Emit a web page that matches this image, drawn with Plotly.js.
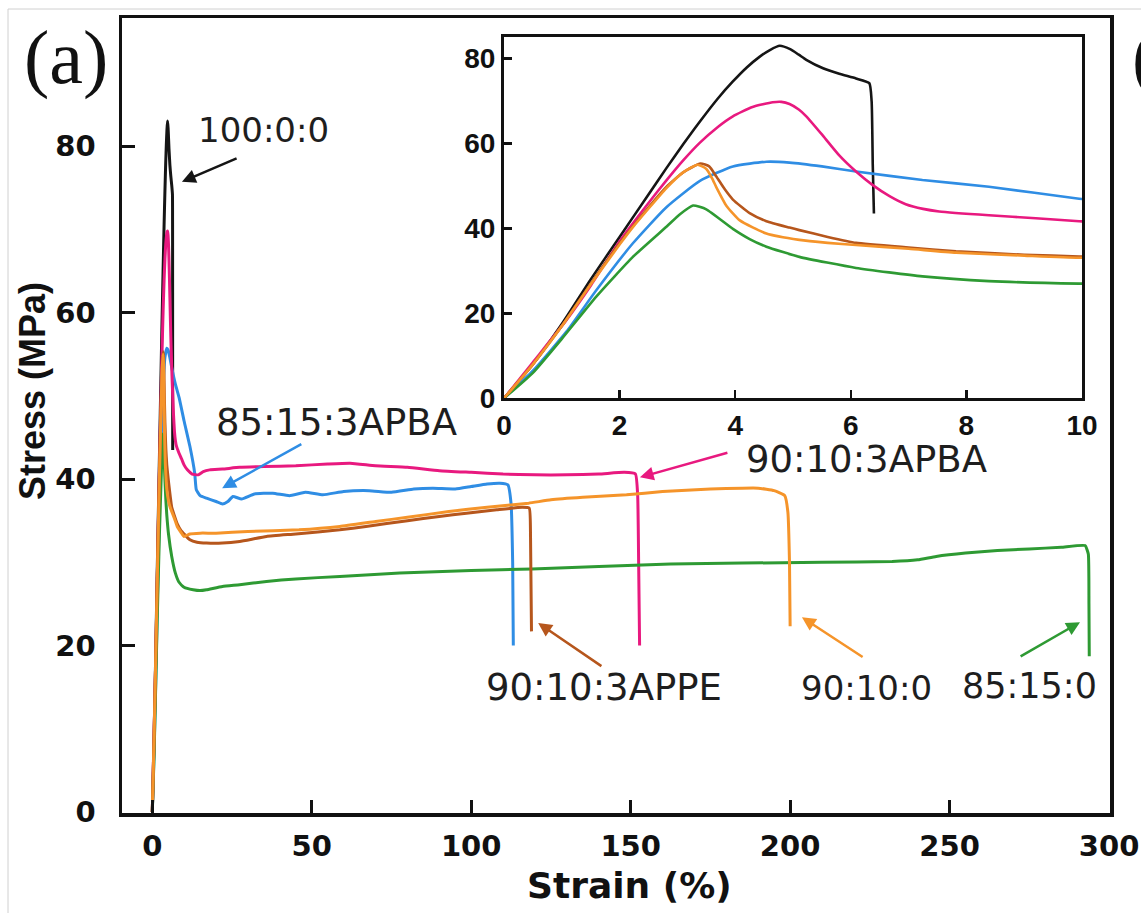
<!DOCTYPE html>
<html>
<head>
<meta charset="utf-8">
<script src="https://cdn.plot.ly/plotly-3.0.1.min.js"></script>
<style>
html,body{margin:0;padding:0;background:#fff;}
#chart{width:1141px;height:913px;}
</style>
</head>
<body>
<div id="chart"></div>
<script>
// ---- Data (strain %, stress MPa) ----
const seriesNames = ["100:0:0", "85:15:3APBA", "90:10:3APBA", "85:15:0", "90:10:3APPE", "90:10:0"];
const seriesColors = ["#151515", "#2f8de4", "#e8197f", "#2e9a33", "#b6561c", "#f5942a"];

const x_100_0_0 = [0,0.5,1,1.5,2,2.5,2.81,3.1,3.38,3.7,3.96,4.2,4.42,4.6,4.77,4.95,5.1,5.23,5.52,5.8,6.09,6.32,6.36,6.38,6.4];
const y_100_0_0 = [0,8,17.5,28,38,48,54.2,59.8,65,70.6,74.6,77.9,80.4,82,83,82.2,80.9,79.7,77.7,76.4,75.3,74.2,70,55,43.5];

const x_90_10_3APBA = [0,0.5,1.08,1.5,2,2.5,2.81,3.1,3.39,3.7,3.96,4.3,4.65,4.8,4.94,5.1,5.23,5.52,5.8,6.09,6.38,6.67,6.95,7.25,7.53,8.39,9.2,9.95,11,12.5,14.4,16,18,22,27.4,35,45,55,62,70,80,90,100,110,120,130,140,148,151.5,152.2,152.5,152.8];
const y_90_10_3APBA = [0,8.5,18.4,26.5,37,46,51.3,56,60.2,63.9,66.4,68.6,69.7,69.8,69.3,68,66.4,61.8,57.2,53.4,50.2,47.6,45.7,44.6,44,43.1,42.4,41.7,41.1,40.6,40.5,40.9,41.1,41.2,41.4,41.5,41.6,41.8,41.9,41.6,41.4,41.0,40.8,40.6,40.5,40.5,40.6,40.8,40.6,38,30,20];

const x_85_15_3APBA = [0,0.5,1.08,1.6,2.23,2.81,3.39,3.96,4.54,4.94,5.5,6.09,7.24,8.39,9.95,11.8,13.3,13.8,15,17,20,22,23.7,25.3,28,32,37.8,43,48,53.5,60,68,75,82,88,95,100,105,109,111.5,112.5,113,113.2];
const y_85_15_3APBA = [0,6.5,15.7,25.5,36.5,45,51.2,54.6,55.7,55.5,54.6,53.4,51.4,49.8,47,43.9,40.7,38.7,38.0,37.7,37.3,37.0,37.3,37.9,37.6,38.2,38.3,38.0,38.4,38.1,38.5,38.6,38.4,38.8,38.9,38.8,39.1,39.4,39.5,39.3,37,30,20];

const x_90_10_3APPE = [0,0.5,1,1.5,2,2.23,2.81,3.1,3.4,3.55,3.67,3.82,3.96,4.25,4.54,4.94,5.11,5.6,6.09,7,7.82,9,9.95,11.8,14,17,22,27.4,35.8,45,58.8,67,80,90,98.5,108,116,118.2,118.6,118.9];
const y_90_10_3APPE = [0,8,17,27,36.5,40.5,49.8,53.2,55.3,54.6,52.3,49.2,46.8,43.6,41.7,40.2,39.6,38,36.6,35.5,34.6,33.8,33.4,32.7,32.4,32.3,32.3,32.5,33.1,33.4,33.9,34.3,35.0,35.5,35.9,36.3,36.6,36.5,33,21.7];

const x_90_10_0 = [0,0.5,1,1.5,2,2.23,2.81,3.1,3.35,3.5,3.6,3.67,3.85,4.08,4.54,5.11,5.6,6.09,7,7.82,9,9.95,11.8,15,20,30,46,58.8,70,80,93,105,118,125,135,148.7,160,175,185,190,195,198.3,199.3,199.8,200];
const y_90_10_0 = [0,8,17,26.8,36.2,40.3,49.5,53.2,55,54,51.8,49.8,45.3,41.9,38.8,37.3,36.6,36.1,35.2,34.3,33.6,33.1,33.4,33.5,33.5,33.7,33.9,34.3,34.9,35.4,36.1,36.6,37.1,37.5,37.8,38.1,38.5,38.8,38.9,38.9,38.6,38.0,36,30,22.3];

const x_85_15_0 = [0,0.5,1,1.6,2.23,2.81,3.05,3.27,3.5,3.96,4.25,4.54,5.11,6.09,7.24,8.39,9.95,12.8,15,17,22,27.4,35.8,45,58.8,77.6,100,119,140,162.5,185,210,232,240,245.8,255,265,275,285,292.5,293.5,293.7,293.8];
const y_85_15_0 = [0,6,14,24,33.3,40.4,43.4,45.4,44.5,39.9,37.5,35.7,33.3,30.7,28.7,27.6,27.0,26.7,26.6,26.7,27.1,27.3,27.7,28.0,28.3,28.7,29.0,29.2,29.5,29.8,29.9,30.0,30.1,30.3,30.7,31.1,31.4,31.6,31.8,32.0,31,25,18.7];

const xs = [x_100_0_0, x_85_15_3APBA, x_90_10_3APBA, x_85_15_0, x_90_10_3APPE, x_90_10_0];
const ys = [y_100_0_0, y_85_15_3APBA, y_90_10_3APBA, y_85_15_0, y_90_10_3APPE, y_90_10_0];

const mainTicksX = [0,50,100,150,200,250,300];
const mainTicksY = [0,20,40,60,80];
const insetTicksX = [0,2,4,6,8,10];
const insetTicksY = [0,20,40,60,80];

// ---- Traces ----
const traces = [];
for (let i = 0; i < xs.length; i++) {
  traces.push({x: xs[i], y: ys[i], type: 'scatter', mode: 'lines', name: seriesNames[i],
    line: {color: seriesColors[i], width: 3, shape: 'spline', smoothing: 0.4}, xaxis: 'x', yaxis: 'y', hoverinfo: 'skip'});
}
for (let i = 0; i < xs.length; i++) {
  traces.push({x: xs[i], y: ys[i], type: 'scatter', mode: 'lines', name: seriesNames[i] + ' (inset)',
    line: {color: seriesColors[i], width: 2.6, shape: 'spline', smoothing: 0.5}, xaxis: 'x2', yaxis: 'y2', hoverinfo: 'skip', cliponaxis: true});
}

// pixel helpers for layout placement (paper fractions)
const W = 1141, H = 913;
const px = v => v / W;
const py = v => (H - v) / H;

const tickFont = {family: 'DejaVu Sans', size: 29, weight: 'bold', color: '#111'};
const insetFont = {family: 'Liberation Sans, Arial', size: 28, weight: 'bold', color: '#111'};
const labelFont = (s) => ({family: 'DejaVu Sans', size: s, color: '#1e1e1e'});

const layout = {
  width: W, height: H,
  margin: {l: 0, r: 0, t: 0, b: 0},
  paper_bgcolor: '#fff', plot_bgcolor: '#fff',
  showlegend: false,
  xaxis: {domain: [px(122), px(1110)], range: [-9.5, 300.3], tickvals: mainTicksX, ticktext: mainTicksX.map(String),
    ticks: 'inside', ticklen: 13, tickwidth: 3, tickcolor: '#111', showline: true, linewidth: 3.5, linecolor: '#111', mirror: true,
    showgrid: false, zeroline: false, tickfont: tickFont, ticklabelstandoff: 5, anchor: 'y'},
  yaxis: {domain: [py(813), py(18)], range: [-0.12, 95.38], tickvals: mainTicksY, ticktext: mainTicksY.map(String),
    ticks: 'inside', ticklen: 13, tickwidth: 3, tickcolor: '#111', showline: true, linewidth: 3.5, linecolor: '#111', mirror: true,
    showgrid: false, zeroline: false, tickfont: tickFont, ticklabelstandoff: 17, anchor: 'x'},
  xaxis2: {domain: [px(504), px(1082)], range: [0, 10], tickvals: insetTicksX, ticktext: insetTicksX.map(String),
    ticks: 'inside', ticklen: 8, tickwidth: 2.5, tickcolor: '#111', showline: true, linewidth: 3, linecolor: '#111', mirror: true,
    showgrid: false, zeroline: false, tickfont: insetFont, ticklabelstandoff: 0, anchor: 'y2'},
  yaxis2: {domain: [py(398.3), py(37.3)], range: [0, 85], tickvals: insetTicksY, ticktext: insetTicksY.map(String),
    ticks: 'inside', ticklen: 8, tickwidth: 2.5, tickcolor: '#111', showline: true, linewidth: 3, linecolor: '#111', mirror: true,
    showgrid: false, zeroline: false, tickfont: insetFont, ticklabelstandoff: 0, anchor: 'x2'},
  shapes: [
    {type: 'line', xref: 'paper', yref: 'paper', x0: px(8), x1: 1, y0: py(9), y1: py(9), line: {color: '#d0d0d0', width: 1}},
    {type: 'line', xref: 'paper', yref: 'paper', x0: px(8), x1: px(8), y0: py(9), y1: 0, line: {color: '#d0d0d0', width: 1}}
  ],
  annotations: [
    // axis titles
    {text: 'Strain (%)', xref: 'paper', yref: 'paper', x: px(629), y: py(885), xanchor: 'center', yanchor: 'middle', showarrow: false,
      font: {family: 'DejaVu Sans', size: 36, weight: 'bold', color: '#111'}},
    {text: 'Stress (MPa)', xref: 'paper', yref: 'paper', x: px(32), y: py(391), xanchor: 'center', yanchor: 'middle', textangle: -90, showarrow: false,
      font: {family: 'Liberation Sans, Arial', size: 36, weight: 'bold', color: '#111'}},
    // panel labels
    {text: '(a)', xref: 'paper', yref: 'paper', x: px(66), y: py(58), xanchor: 'center', yanchor: 'middle', showarrow: false,
      font: {family: 'Liberation Serif, Times New Roman', size: 76, color: '#111'}},
    {text: '(b)', xref: 'paper', yref: 'paper', x: px(1130), y: py(58), xanchor: 'left', yanchor: 'middle', showarrow: false,
      font: {family: 'Liberation Serif, Times New Roman', size: 76, color: '#111'}},
    // series labels
    {text: '100:0:0', xref: 'x', yref: 'y', x: 34.8, y: 81.9, showarrow: false, font: labelFont(34)},
    {text: '85:15:3APBA', xref: 'x', yref: 'y', x: 57.9, y: 46.8, showarrow: false, font: labelFont(37)},
    {text: '90:10:3APBA', xref: 'x', yref: 'y', x: 223.8, y: 42.3, showarrow: false, font: labelFont(37)},
    {text: '90:10:3APPE', xref: 'x', yref: 'y', x: 141.6, y: 14.9, showarrow: false, font: labelFont(37)},
    {text: '90:10:0', xref: 'x', yref: 'y', x: 223.8, y: 14.9, showarrow: false, font: labelFont(34)},
    {text: '85:15:0', xref: 'x', yref: 'y', x: 275.2, y: 15.1, showarrow: false, font: labelFont(35)},
    // arrows
    {text: '', xref: 'x', yref: 'y', axref: 'x', ayref: 'y', x: 9.3, y: 75.7, ax: 26.9, ay: 78.6, showarrow: true, arrowhead: 2, arrowsize: 1.1, arrowwidth: 2.5, arrowcolor: '#151515'},
    {text: '', xref: 'x', yref: 'y', axref: 'x', ayref: 'y', x: 21.9, y: 38.9, ax: 47.2, ay: 44.3, showarrow: true, arrowhead: 2, arrowsize: 1.1, arrowwidth: 2.5, arrowcolor: '#2f8de4'},
    {text: '', xref: 'x', yref: 'y', axref: 'x', ayref: 'y', x: 152.9, y: 40.2, ax: 180.8, ay: 43.2, showarrow: true, arrowhead: 2, arrowsize: 1.1, arrowwidth: 2.5, arrowcolor: '#e8197f'},
    {text: '', xref: 'x', yref: 'y', axref: 'x', ayref: 'y', x: 121, y: 22.7, ax: 141.3, ay: 17.4, showarrow: true, arrowhead: 2, arrowsize: 1.1, arrowwidth: 2.5, arrowcolor: '#b6561c'},
    {text: '', xref: 'x', yref: 'y', axref: 'x', ayref: 'y', x: 203.7, y: 23.4, ax: 223.2, ay: 18.5, showarrow: true, arrowhead: 2, arrowsize: 1.1, arrowwidth: 2.5, arrowcolor: '#f5942a'},
    {text: '', xref: 'x', yref: 'y', axref: 'x', ayref: 'y', x: 290.9, y: 22.8, ax: 271.8, ay: 18.6, showarrow: true, arrowhead: 2, arrowsize: 1.1, arrowwidth: 2.5, arrowcolor: '#2e9a33'}
  ]
};

Plotly.newPlot('chart', traces, layout, {staticPlot: true, displayModeBar: false});
</script>
</body>
</html>
